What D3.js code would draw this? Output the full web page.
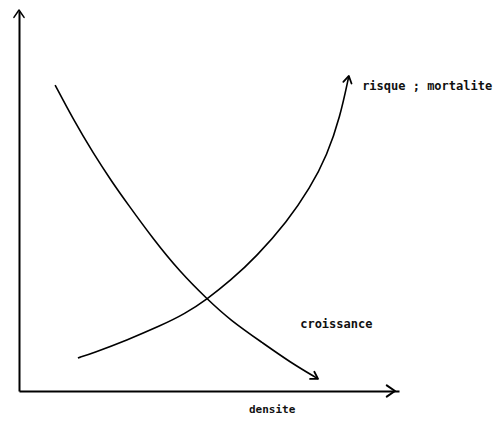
<!DOCTYPE html>
<html>
<head>
<meta charset="utf-8">
<script src="https://cdn.jsdelivr.net/npm/d3@7"></script>
<style>
  body { margin: 0; background: #fff; }
  .lbl { font-family: "DejaVu Sans Mono", monospace; font-weight: bold; fill: #111; }
</style>
</head>
<body>
<div id="chart"></div>
<script>
const croissanceX = [9.5, 14.2, 19.5, 24.7, 28.4, 35.3, 42.4, 49.5, 55.5, 64.2, 71.3, 78.7];
const croissanceY = [80.5, 71.6, 62.6, 54.7, 49.5, 40.0, 31.3, 24.2, 18.7, 12.6, 7.6, 3.2];

const risqueX = [15.5, 19.5, 28.4, 37.1, 43.7, 49.5, 55.5, 62.6, 70.5, 76.6, 81.1, 84.5, 86.8];
const risqueY = [8.7, 10.0, 13.4, 17.1, 20.3, 24.2, 28.9, 35.5, 44.5, 53.4, 62.1, 72.1, 82.9];

const labels = ["risque ; mortalite", "croissance", "densite"];

const W = 500, H = 423;

const svg = d3.select("#chart")
  .append("svg")
  .attr("width", W)
  .attr("height", H);

const x = d3.scaleLinear().domain([0, 100]).range([19, 399]);
const y = d3.scaleLinear().domain([0, 100]).range([391, 11]);

// axes, sans graduations
svg.append("g")
  .attr("transform", `translate(0,${y(0)})`)
  .call(d3.axisBottom(x).ticks(0).tickSizeOuter(0))
  .call(g => g.select(".domain").attr("stroke", "#000").attr("stroke-width", 2));

svg.append("g")
  .attr("transform", `translate(${x(0)},0)`)
  .call(d3.axisLeft(y).ticks(0).tickSizeOuter(0))
  .call(g => g.select(".domain").attr("stroke", "#000").attr("stroke-width", 2));

// pointes de flèches ouvertes
function arrowHead(px, py, angle, len, spread, width) {
  const a1 = angle + Math.PI - spread, a2 = angle + Math.PI + spread;
  svg.append("path")
    .attr("d", `M${px + len * Math.cos(a1)},${py + len * Math.sin(a1)}L${px},${py}L${px + len * Math.cos(a2)},${py + len * Math.sin(a2)}`)
    .attr("fill", "none")
    .attr("stroke", "#000")
    .attr("stroke-width", width)
    .attr("stroke-linejoin", "round")
    .attr("stroke-linecap", "round");
}

arrowHead(x(100) - 4, y(0), 0, 10, 0.6, 2);
arrowHead(x(0), y(100) - 1, -Math.PI / 2, 9, 0.6, 1.5);

const line = d3.line()
  .x(d => x(d[0]))
  .y(d => y(d[1]))
  .curve(d3.curveBasis);

const croissance = croissanceX.map((d, i) => [d, croissanceY[i]]);
const risque = risqueX.map((d, i) => [d, risqueY[i]]);

[croissance, risque].forEach(pts => {
  svg.append("path")
    .attr("d", line(pts))
    .attr("fill", "none")
    .attr("stroke", "#000")
    .attr("stroke-width", 1.6);

  const a = pts[pts.length - 2], b = pts[pts.length - 1];
  const ang = Math.atan2(y(b[1]) - y(a[1]), x(b[0]) - x(a[0]));
  arrowHead(x(b[0]), y(b[1]), ang, 8, 0.55, 1.8);
});

svg.append("text")
  .attr("class", "lbl")
  .attr("x", x(90.3))
  .attr("y", y(79.2))
  .attr("font-size", 12)
  .text(labels[0]);

svg.append("text")
  .attr("class", "lbl")
  .attr("x", x(74))
  .attr("y", y(16.5))
  .attr("font-size", 12)
  .text(labels[1]);

svg.append("text")
  .attr("class", "lbl")
  .attr("x", x(60.5))
  .attr("y", y(-5.7))
  .attr("font-size", 11)
  .attr("font-weight", "normal")
  .attr("fill", "#333")
  .text(labels[2]);
</script>
</body>
</html>
